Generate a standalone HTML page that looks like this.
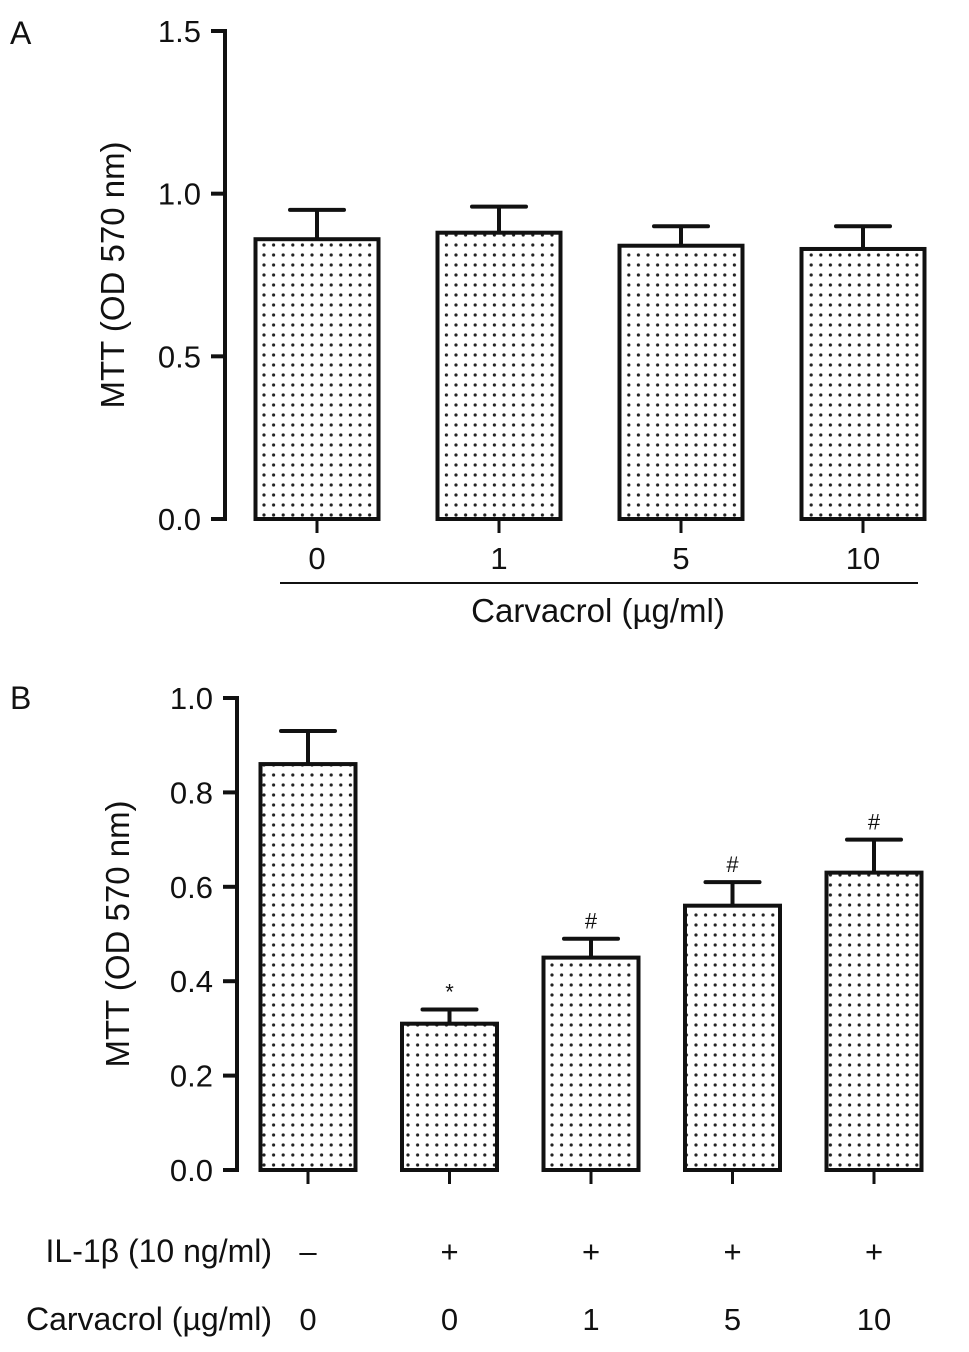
<!DOCTYPE html>
<html><head><meta charset="utf-8"><style>body{margin:0;background:#fff}svg text{font-family:"Liberation Sans",Arial,sans-serif;fill:#111}</style></head>
<body>
<svg id="c" width="969" height="1347" viewBox="0 0 969 1347" xmlns="http://www.w3.org/2000/svg">
<defs><pattern id="dots" width="9.6" height="10" patternUnits="userSpaceOnUse"><circle cx="4.8" cy="5" r="1.6" fill="#222"/></pattern></defs>
<g id="A"></g>
<g id="B"></g>
</svg>
<script>
const catsA=["0","1","5","10"];
const valsA=[0.86,0.88,0.84,0.83];
const errA=[0.95,0.96,0.90,0.90];
const ticksA=[0,0.5,1.0,1.5];
const tickLabA=["0.0","0.5","1.0","1.5"];
const il1b=["–","+","+","+","+"];
const catsB=["0","0","1","5","10"];
const valsB=[0.86,0.31,0.45,0.56,0.63];
const errB=[0.93,0.34,0.49,0.61,0.70];
const sigB=["","*","#","#","#"];
const ticksB=[0,0.2,0.4,0.6,0.8,1.0];
const tickLabB=["0.0","0.2","0.4","0.6","0.8","1.0"];
const NS="http://www.w3.org/2000/svg";
function mk(p,t,a,txt){const e=document.createElementNS(NS,t);for(const k in a)e.setAttribute(k,a[k]);if(txt!==undefined)e.textContent=txt;p.appendChild(e);return e;}
function panel(g,o){
 const y=v=>o.y0-(v/o.max)*(o.y0-o.yTop);
 const x=i=>o.x0+i*o.step;
 let t=mk(g,'text',{x:o.lx,y:o.ly,'font-size':32},o.letter);
 
 
 let ax=mk(g,'line',{x1:o.ax,y1:o.yTop-2,x2:o.ax,y2:o.y0+2,stroke:'#111','stroke-width':4});
 
 
 o.ticks.forEach((v,i)=>{
  mk(g,'line',{x1:o.ax-14,y1:y(v),x2:o.ax,y2:y(v),stroke:'#111','stroke-width':4});
  let l=mk(g,'text',{x:o.ax-24,y:y(v)+11,'font-size':31,'text-anchor':'end'},o.tickLab[i]);
  
  
 });
 let yt=mk(g,'text',{x:0,y:0,'font-size':33,'text-anchor':'middle',transform:`translate(${o.ytx},${(o.yTop+o.y0)/2}) rotate(-90)`},'MTT (OD 570 nm)');
 
 
 o.vals.forEach((v,i)=>{
  const cx=x(i);
  mk(g,'line',{x1:cx,y1:y(o.err[i]),x2:cx,y2:y(v),stroke:'#111','stroke-width':4});
  mk(g,'line',{x1:cx-27,y1:y(o.err[i]),x2:cx+27,y2:y(o.err[i]),stroke:'#111','stroke-width':4,'stroke-linecap':'round'});
  let b=mk(g,'rect',{x:cx-o.bw/2,y:y(v),width:o.bw,height:o.y0-y(v),fill:'url(#dots)',stroke:'#111','stroke-width':4});
  
  
  mk(g,'line',{x1:cx,y1:o.y0,x2:cx,y2:o.y0+14,stroke:'#111','stroke-width':3});
  if(o.sig&&o.sig[i]){let s=mk(g,'text',{x:cx,y:y(o.err[i])-10,'font-size':22,'text-anchor':'middle'},o.sig[i]);
   
   }
 });
 return x;
}
const gA=document.getElementById('A');
const xA=panel(gA,{letter:'A',lx:10,ly:44,ax:225,y0:519,yTop:31,max:1.5,x0:317,step:182,bw:123,vals:valsA,err:errA,ticks:ticksA,tickLab:tickLabA,ytx:124});
catsA.forEach((c,i)=>{let l=mk(gA,'text',{x:xA(i),y:569,'font-size':31,'text-anchor':'middle'},c);
 
 });
mk(gA,'line',{x1:280,y1:583,x2:918,y2:583,stroke:'#111','stroke-width':2});
let xtA=mk(gA,'text',{x:598,y:622,'font-size':33,'text-anchor':'middle'},'Carvacrol (µg/ml)');


const gB=document.getElementById('B');
const xB=panel(gB,{letter:'B',lx:10,ly:709,ax:237,y0:1170,yTop:698,max:1.0,x0:308,step:141.5,bw:95,vals:valsB,err:errB,sig:sigB,ticks:ticksB,tickLab:tickLabB,ytx:129});
let r1=mk(gB,'text',{x:272,y:1262,'font-size':32,'text-anchor':'end'},'IL-1β (10 ng/ml)');


let r2=mk(gB,'text',{x:272,y:1330,'font-size':32,'text-anchor':'end'},'Carvacrol (µg/ml)');


il1b.forEach((c,i)=>{let l=mk(gB,'text',{x:xB(i),y:1262,'font-size':31,'text-anchor':'middle'},c);
 
 });
catsB.forEach((c,i)=>{let l=mk(gB,'text',{x:xB(i),y:1330,'font-size':31,'text-anchor':'middle'},c);
 
 });
</script>
</body></html>
